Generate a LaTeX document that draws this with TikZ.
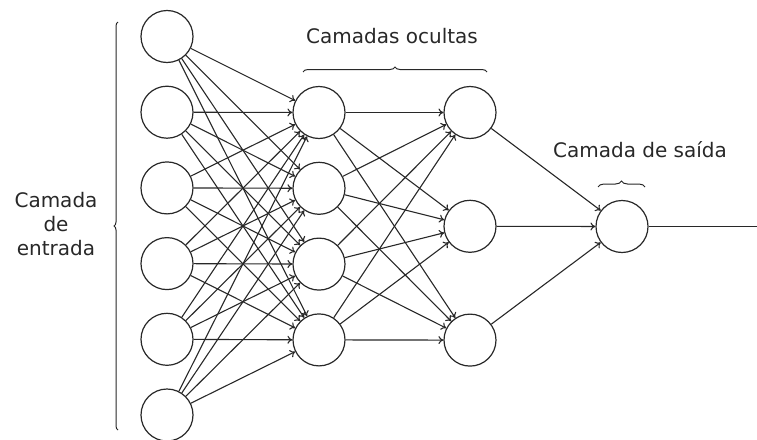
\documentclass[tikz,border=0pt]{standalone}
\usepackage{fontspec}
\setmainfont{DejaVu Sans}
\usetikzlibrary{decorations.pathreplacing, arrows.meta}
\definecolor{inkgray}{RGB}{40,40,40}
\tikzset{
  neuron/.style={draw=inkgray, line width=1.2pt, circle, minimum size=52pt, inner sep=0pt},
  synapse/.style={draw=inkgray, line width=1.1pt, -{To[length=5pt,width=8pt]}},
  layerbrace/.style={draw=inkgray, line width=1pt, decorate,
    decoration={brace, amplitude=5pt}},
  layerlabel/.style={font=\fontsize{20}{24}\selectfont, text=inkgray, align=center}
}

\begin{document}
\begin{tikzpicture}[x=1pt, y=-1pt]
  \useasboundingbox (0,0) rectangle (757,439);
  % camadas
  \foreach \i in {1,...,6}{
    \node[neuron] (in\i) at (167, {36.5+(\i-1)*75.7}) {};
  }
  \foreach \i in {1,...,4}{
    \node[neuron] (ha\i) at (319, {112.5+(\i-1)*75.8}) {};
  }
  \foreach \i in {1,...,3}{
    \node[neuron] (hb\i) at (470, {112.5+(\i-1)*113.8}) {};
  }
  \node[neuron] (out) at (622,226.5) {};
  \coordinate (fim) at (757,226.5);

  % ligacoes
  \foreach \i in {1,...,6}{
    \foreach \j in {1,...,4}{
      \draw[synapse] (in\i) -- (ha\j);
    }
  }
  \foreach \i in {1,...,4}{
    \foreach \j in {1,...,3}{
      \draw[synapse] (ha\i) -- (hb\j);
    }
  }
  \foreach \j in {1,...,3}{
    \draw[synapse] (hb\j) -- (out);
  }
  \draw[inkgray, line width=1.1pt] (out) -- (fim);

  % chaves e textos
  \draw[layerbrace, decoration={amplitude=4pt}] (118,430) -- (118,22);
  \draw[layerbrace] (303,72) -- (487,72);
  \draw[layerbrace, decoration={amplitude=6pt}] (598,187) -- (645,187);
  \node[layerlabel] (entrada) at (56,224) {Camada\\de\\entrada};
  \node[layerlabel] (ocultas) at (392,36) {Camadas ocultas};
  \node[layerlabel] (saida) at (640,150) {Camada de saída};
\end{tikzpicture}
\end{document}
